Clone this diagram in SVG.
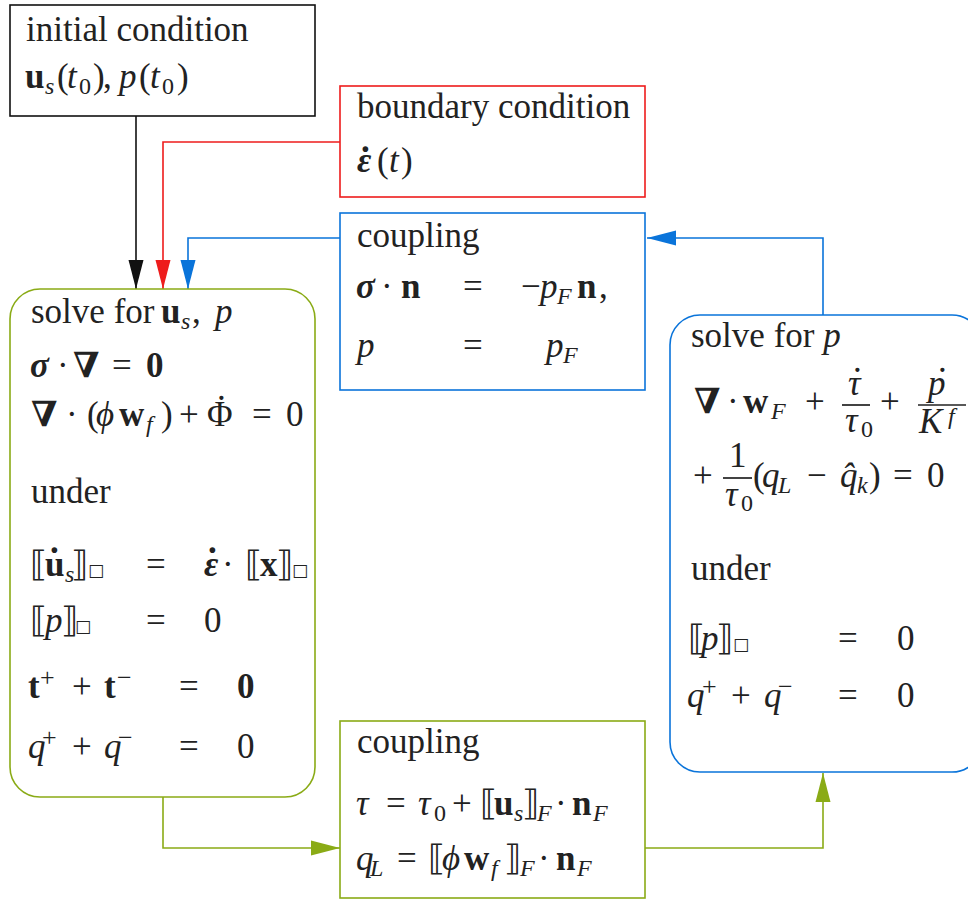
<svg xmlns="http://www.w3.org/2000/svg" width="968" height="900" viewBox="0 0 968 900">
<defs>
<style>
text{font-family:"Liberation Serif","DejaVu Serif",serif;font-size:35px;fill:#222}
.i{font-style:italic}
.b{font-weight:bold}
.bi{font-weight:bold;font-style:italic}
.s{font-size:24px}
.p{font-size:26px}
.q{font-size:17px;font-family:"DejaVu Sans",sans-serif}
.box{fill:#fff;stroke-width:1.6}
.k{stroke:#111}.r{stroke:#ee1c1c}.u{stroke:#0a74da}.g{stroke:#8aab16}
.c{fill:none;stroke-width:1.6}
.fr{stroke:#222;stroke-width:1.7}
</style>
<marker id="ak" markerUnits="userSpaceOnUse" markerWidth="30" markerHeight="16" refX="29" refY="8" orient="auto"><path d="M0,0.5 L29,8 L0,15.5 z" fill="#111"/></marker>
<marker id="ar" markerUnits="userSpaceOnUse" markerWidth="30" markerHeight="16" refX="29" refY="8" orient="auto"><path d="M0,0.5 L29,8 L0,15.5 z" fill="#ee1c1c"/></marker>
<marker id="au" markerUnits="userSpaceOnUse" markerWidth="30" markerHeight="16" refX="29" refY="8" orient="auto"><path d="M0,0.5 L29,8 L0,15.5 z" fill="#0a74da"/></marker>
<marker id="ag" markerUnits="userSpaceOnUse" markerWidth="30" markerHeight="16" refX="29" refY="8" orient="auto"><path d="M0,0.5 L29,8 L0,15.5 z" fill="#8aab16"/></marker>
</defs>
<rect width="968" height="900" fill="#fff"/>

<g id="connectors">
<path class="c k" d="M136,116 V289" marker-end="url(#ak)"/>
<path class="c r" d="M340,142 H163 V289" marker-end="url(#ar)"/>
<path class="c u" d="M340,238 H188 V289" marker-end="url(#au)"/>
<path class="c u" d="M823,315 V238 H647" marker-end="url(#au)"/>
<path class="c g" d="M163,797 V848 H340" marker-end="url(#ag)"/>
<path class="c g" d="M645,848 H823 V773" marker-end="url(#ag)"/>
</g>

<g id="initial">
<rect class="box k" x="10" y="5" width="305" height="111"/>
<text x="26" y="41">initial condition</text>
<text y="88"><tspan class="b" x="25">u</tspan><tspan class="i s" x="45" y="94">s</tspan><tspan x="57" y="88">(</tspan><tspan class="i" x="67">t</tspan><tspan class="s" x="79" y="94">0</tspan><tspan x="93" y="88">)</tspan><tspan x="103">,</tspan><tspan class="i" x="119">p</tspan><tspan x="139">(</tspan><tspan class="i" x="150">t</tspan><tspan class="s" x="162" y="94">0</tspan><tspan x="177" y="88">)</tspan></text>
</g>

<g id="boundary">
<rect class="box r" x="340" y="86" width="305" height="111"/>
<text x="357" y="118">boundary condition</text>
<text y="172"><tspan class="bi" x="357">ε</tspan><tspan class="b" x="361" y="152">.</tspan><tspan x="377" y="172">(</tspan><tspan class="i" x="389">t</tspan><tspan x="401">)</tspan></text>
</g>

<g id="coupling-top">
<rect class="box u" x="340" y="213" width="305" height="177"/>
<text x="357" y="247">coupling</text>
<text y="298"><tspan class="bi" x="356">σ</tspan><tspan x="381">·</tspan><tspan class="b" x="401">n</tspan><tspan x="463">=</tspan><tspan x="521">−</tspan><tspan class="i" x="540">p</tspan><tspan class="i s" x="557" y="304">F</tspan><tspan class="b" x="577" y="298">n</tspan><tspan x="599">,</tspan></text>
<text y="357"><tspan class="i" x="357">p</tspan><tspan x="463">=</tspan><tspan class="i" x="546">p</tspan><tspan class="i s" x="563" y="363">F</tspan></text>
</g>

<g id="solve-us">
<rect class="box g" x="10" y="289" width="305" height="508" rx="30"/>
<text x="31" y="323">solve for<tspan class="b" x="161">u</tspan><tspan class="i s" x="181" y="329">s</tspan><tspan x="192" y="323">,</tspan><tspan class="i" x="215">p</tspan></text>
<text y="377"><tspan class="bi" x="30">σ</tspan><tspan x="57">·</tspan><tspan class="b" x="73">∇</tspan><tspan x="112">=</tspan><tspan class="b" x="146">0</tspan></text>
<text y="426"><tspan class="b" x="31">∇</tspan><tspan x="66">·</tspan><tspan x="87">(</tspan><tspan class="i" x="96">ϕ</tspan><tspan class="b" x="119">w</tspan><tspan class="i s" x="146" y="432">f</tspan><tspan x="161" y="426">)</tspan><tspan x="179">+</tspan><tspan x="207">Φ</tspan><tspan x="217" y="400">.</tspan><tspan x="252" y="426">=</tspan><tspan x="286">0</tspan></text>
<text x="31" y="503">under</text>
<text y="576"><tspan x="30">⟦</tspan><tspan class="b" x="45">u</tspan><tspan class="b" x="50" y="553">.</tspan><tspan class="i s" x="65" y="582">s</tspan><tspan x="71" y="576">⟧</tspan><tspan class="q" x="88">□</tspan><tspan x="146">=</tspan><tspan class="bi" x="204">ε</tspan><tspan class="b" x="208" y="553">.</tspan><tspan x="222" y="576">·</tspan><tspan x="245">⟦</tspan><tspan class="b" x="260">x</tspan><tspan x="276">⟧</tspan><tspan class="q" x="292">□</tspan></text>
<text y="632"><tspan x="30">⟦</tspan><tspan class="i" x="45">p</tspan><tspan x="61">⟧</tspan><tspan class="q" x="75">□</tspan><tspan x="146">=</tspan><tspan x="204">0</tspan></text>
<text y="698"><tspan class="b" x="28">t</tspan><tspan class="p" x="40" y="686">+</tspan><tspan x="72" y="698">+</tspan><tspan class="b" x="104">t</tspan><tspan class="p" x="117" y="686">−</tspan><tspan x="179" y="698">=</tspan><tspan class="b" x="237">0</tspan></text>
<text y="758"><tspan class="i" x="28">q</tspan><tspan class="p" x="42" y="746">+</tspan><tspan x="72" y="758">+</tspan><tspan class="i" x="104">q</tspan><tspan class="p" x="118" y="746">−</tspan><tspan x="179" y="758">=</tspan><tspan x="237">0</tspan></text>
</g>

<g id="solve-p">
<rect class="box u" x="670" y="315" width="312" height="457" rx="30"/>
<text x="691" y="347">solve for <tspan class="i">p</tspan></text>
<text y="413"><tspan class="b" x="694">∇</tspan><tspan x="727">·</tspan><tspan class="b" x="743">w</tspan><tspan class="i s" x="771" y="419">F</tspan><tspan x="805" y="413">+</tspan></text>
<text y="395"><tspan class="i" x="848">τ</tspan><tspan x="853" y="372">.</tspan></text>
<line class="fr" x1="842" y1="405" x2="870" y2="405"/>
<text y="432"><tspan class="i" x="845">τ</tspan><tspan class="s" x="861" y="437">0</tspan></text>
<text x="880" y="413">+</text>
<text y="395"><tspan class="i" x="928">p</tspan><tspan x="938" y="372">.</tspan></text>
<line class="fr" x1="918" y1="405" x2="966" y2="405"/>
<text y="433"><tspan class="i" x="919">K</tspan><tspan class="i s" x="948" y="424">f</tspan></text>
<text x="693" y="487">+</text>
<text x="729" y="467">1</text>
<line class="fr" x1="723" y1="478" x2="752" y2="478"/>
<text y="506"><tspan class="i" x="725">τ</tspan><tspan class="s" x="741" y="511">0</tspan></text>
<text y="487"><tspan x="753">(</tspan><tspan class="i" x="762">q</tspan><tspan class="i s" x="778" y="493">L</tspan><tspan x="807" y="487">−</tspan><tspan class="i" x="840">q̂</tspan><tspan class="i s" x="857" y="493">k</tspan><tspan x="869" y="487">)</tspan><tspan x="893">=</tspan><tspan x="927">0</tspan></text>
<text x="691" y="580">under</text>
<text y="650"><tspan x="688">⟦</tspan><tspan class="i" x="701">p</tspan><tspan x="716">⟧</tspan><tspan class="q" x="733">□</tspan><tspan x="838">=</tspan><tspan x="897">0</tspan></text>
<text y="707"><tspan class="i" x="687">q</tspan><tspan class="p" x="702" y="695">+</tspan><tspan x="731" y="707">+</tspan><tspan class="i" x="764">q</tspan><tspan class="p" x="778" y="695">−</tspan><tspan x="838" y="707">=</tspan><tspan x="897">0</tspan></text>
</g>

<g id="coupling-bottom">
<rect class="box g" x="340" y="721" width="305" height="177"/>
<text x="357" y="753">coupling</text>
<text y="815"><tspan class="i" x="356">τ</tspan><tspan x="386">=</tspan><tspan class="i" x="418">τ</tspan><tspan class="s" x="434" y="821">0</tspan><tspan x="452" y="815">+</tspan><tspan x="480">⟦</tspan><tspan class="b" x="494">u</tspan><tspan class="i s" x="514" y="821">s</tspan><tspan x="522" y="815">⟧</tspan><tspan class="i s" x="537" y="821">F</tspan><tspan x="555" y="815">·</tspan><tspan class="b" x="572">n</tspan><tspan class="i s" x="593" y="821">F</tspan></text>
<text y="870"><tspan class="i" x="356">q</tspan><tspan class="i s" x="370" y="876">L</tspan><tspan x="397" y="870">=</tspan><tspan x="428">⟦</tspan><tspan class="i" x="442">ϕ</tspan><tspan class="b" x="464">w</tspan><tspan class="i s" x="491" y="876">f</tspan><tspan x="504" y="870">⟧</tspan><tspan class="i s" x="520" y="876">F</tspan><tspan x="538" y="870">·</tspan><tspan class="b" x="556">n</tspan><tspan class="i s" x="577" y="876">F</tspan></text>
</g>
</svg>
